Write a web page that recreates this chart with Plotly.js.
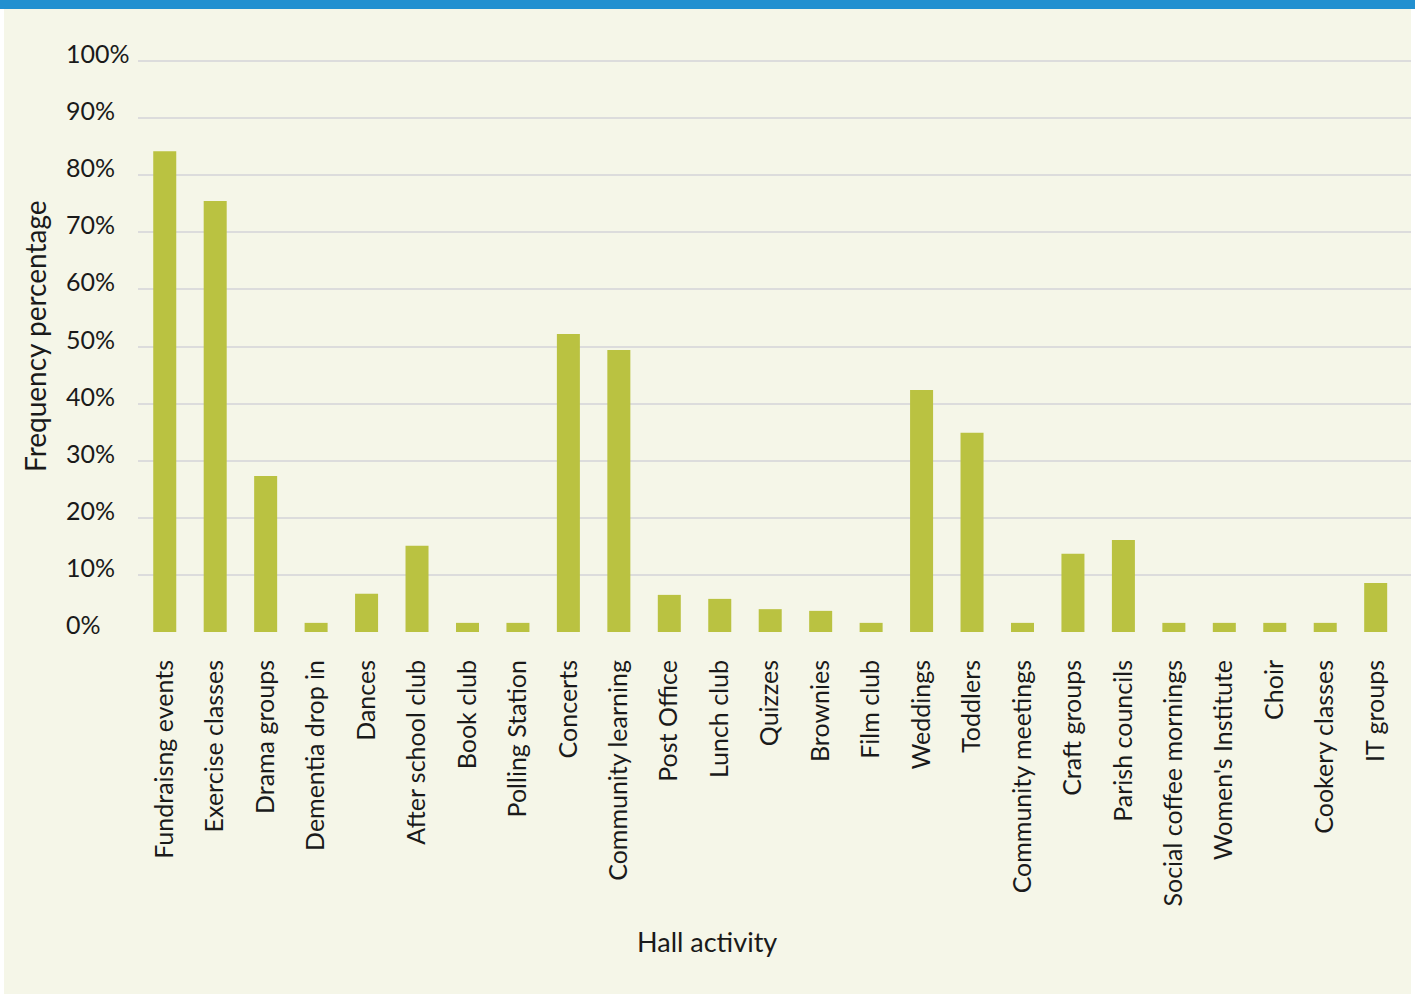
<!DOCTYPE html>
<html>
<head>
<meta charset="utf-8">
<script src="https://cdn.plot.ly/plotly-3.0.1.min.js"></script>
<style>html,body{margin:0;padding:0;background:#ffffff;}#chart{width:1415px;height:994px;}</style>
</head>
<body>
<div id="chart"></div>
<script>
const categories = ["Fundraisng events","Exercise classes","Drama groups","Dementia drop in","Dances","After school club","Book club","Polling Station","Concerts","Community learning","Post Office","Lunch club","Quizzes","Brownies","Film club","Weddings","Toddlers","Community meetings","Craft groups","Parish councils","Social coffee mornings","Women's Institute","Choir","Cookery classes","IT groups"];
const values = [84.2,75.5,27.3,1.6,6.7,15.1,1.6,1.6,52.2,49.4,6.5,5.8,4.0,3.7,1.6,42.4,34.9,1.6,13.7,16.1,1.6,1.6,1.6,1.6,8.6];
const yTickValues = [0,10,20,30,40,50,60,70,80,90,100];
const yTickLabels = ["0%","10%","20%","30%","40%","50%","60%","70%","80%","90%","100%"];
const xTitle = "Hall activity";
const yTitle = "Frequency percentage";

const W = 1415, H = 994;
const m = {l:138, r:4, t:59, b:362};
const plotW = W - m.l - m.r;
const plotH = H - m.t - m.b;
const font = "Lato, 'Open Sans', sans-serif";
const txt = "#1a1a1a";

const annotations = yTickValues.map((v,i)=>({
  xref:'paper', yref:'y', x:(64 - m.l)/plotW, y:v, xanchor:'left', yanchor:'middle',
  text:yTickLabels[i], showarrow:false, font:{family:font,size:25,color:txt}, yshift:8
}));
annotations.push({xref:'paper', yref:'paper', x:(707 - m.l)/plotW, y:-(941-632)/plotH,
  xanchor:'center', yanchor:'middle', text:xTitle, showarrow:false, font:{family:font,size:27,color:txt}});
annotations.push({xref:'paper', yref:'paper', x:(35 - m.l)/plotW, y:(632-336)/plotH,
  xanchor:'center', yanchor:'middle', textangle:-90, text:yTitle, showarrow:false, font:{family:font,size:28,color:txt}});

const data = [{
  type:'bar', x:categories, y:values, marker:{color:'#BAC241'}, hoverinfo:'x+y'
}];
const layout = {
  width:W, height:H, margin:m,
  paper_bgcolor:'#ffffff', plot_bgcolor:'rgba(0,0,0,0)',
  bargap:0.544, showlegend:false,
  font:{family:font, color:txt},
  xaxis:{type:'category', range:[-0.53,24.7], tickangle:-90, tickfont:{family:font,size:25,color:txt},
    ticks:'', showgrid:false, zeroline:false, showline:false, ticklabelstandoff:22},
  yaxis:{range:[0,100.35], tickvals:yTickValues, showticklabels:false, showgrid:true, gridcolor:'#dcdcdc', gridwidth:2,
    zeroline:false, showline:false, ticks:''},
  annotations:annotations,
  shapes:[
    {type:'rect', xref:'paper', yref:'paper', layer:'below', line:{width:0}, fillcolor:'#F5F6E8',
      x0:(4-m.l)/plotW, x1:(1411-m.l)/plotW, y0:-(H-632)/plotH, y1:(632-0)/plotH},
    {type:'rect', xref:'paper', yref:'paper', layer:'above', line:{width:0}, fillcolor:'#2290D0',
      x0:(0-m.l)/plotW, x1:(W-m.l)/plotW, y0:(632-9)/plotH, y1:(632-0)/plotH}
  ]
};
Plotly.newPlot('chart', data, layout, {displayModeBar:false, staticPlot:true});
</script>
</body>
</html>
